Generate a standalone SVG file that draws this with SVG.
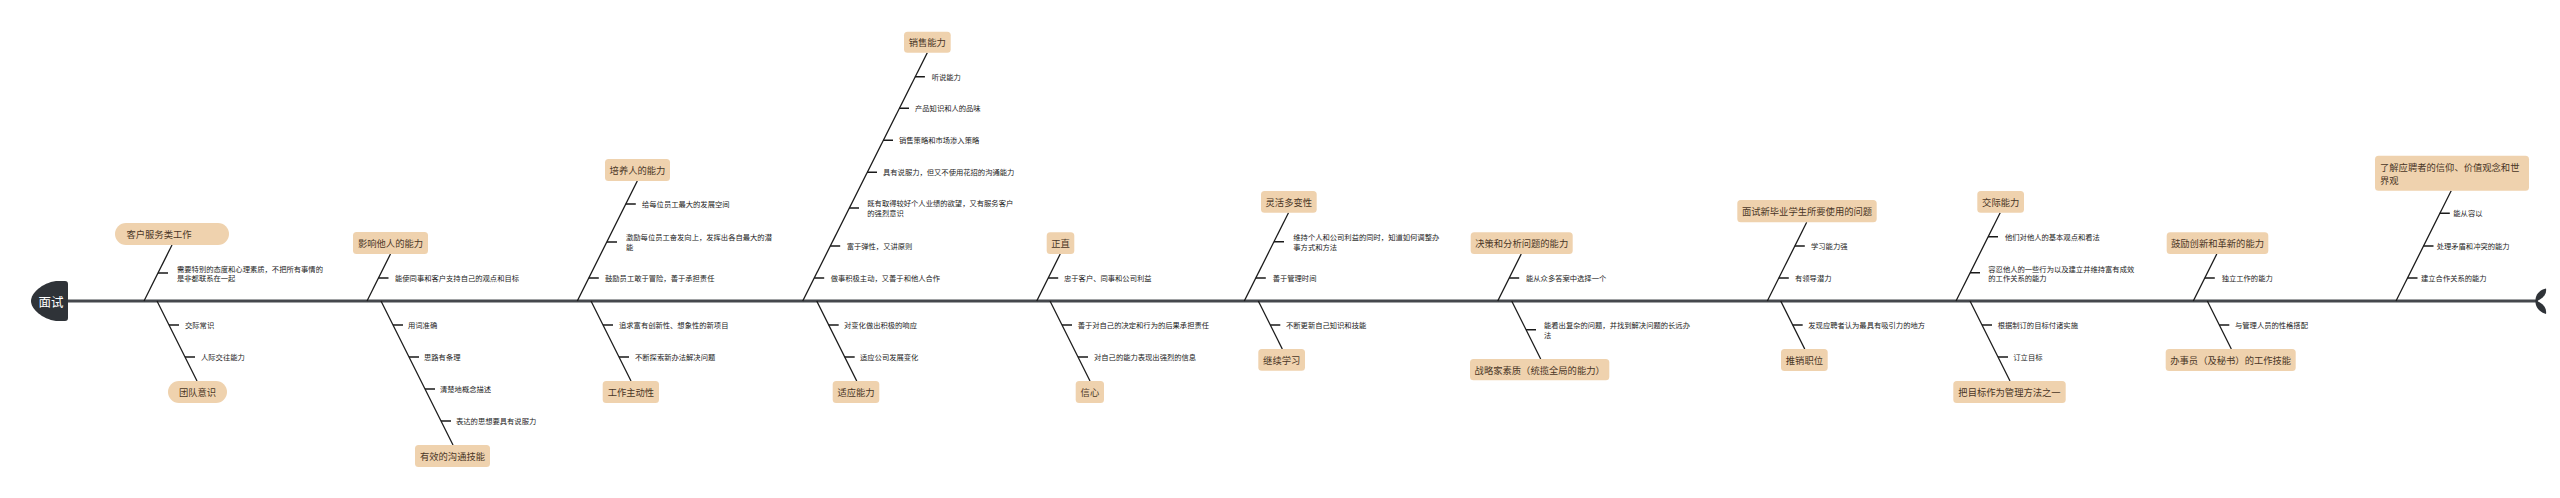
<svg xmlns="http://www.w3.org/2000/svg" width="2560" height="498" viewBox="0 0 2560 498">
<style>
.bg{fill:#ffffff}
.spine{stroke:#45484d;stroke-width:3;fill:none}
.br{stroke:#1a1a1a;stroke-width:1.3;fill:none}
.tk{stroke:#1a1a1a;stroke-width:1.5;fill:none}
.box{fill:#efd2ae}
.lbl{font-family:"Noto Sans CJK SC","Noto Sans",sans-serif;font-size:9.3px;fill:#4a3626;text-anchor:middle;dominant-baseline:central}
.lbl2{font-family:"Noto Sans CJK SC","Noto Sans",sans-serif;font-size:9.3px;fill:#4a3626;dominant-baseline:central}
.sub{font-family:"Noto Sans CJK SC","Noto Sans",sans-serif;font-size:7.3px;fill:#222;dominant-baseline:central}
.head{fill:#2f3338}
.htxt{font-family:"Noto Sans CJK SC","Noto Sans",sans-serif;font-size:12.5px;fill:#ffffff;text-anchor:middle;dominant-baseline:central}
</style>
<rect class="bg" x="0" y="0" width="2560" height="498"/>
<g id="connectors">
<line class="spine" x1="66" y1="301" x2="2538" y2="301"/>
<line class="br" x1="144" y1="301" x2="172" y2="245"/>
<line class="br" x1="157" y1="301" x2="197" y2="381"/>
<line class="br" x1="367" y1="301" x2="390.5" y2="254"/>
<line class="br" x1="381" y1="301" x2="453" y2="445"/>
<line class="br" x1="577.3" y1="301" x2="637.3" y2="181"/>
<line class="br" x1="591" y1="301" x2="631" y2="381"/>
<line class="br" x1="802.7" y1="301" x2="927.3" y2="52.7"/>
<line class="br" x1="816.7" y1="301" x2="856.7" y2="381"/>
<line class="br" x1="1036.7" y1="301" x2="1060.2" y2="254"/>
<line class="br" x1="1050" y1="301" x2="1090" y2="381"/>
<line class="br" x1="1244.3" y1="301" x2="1288.5" y2="212.7"/>
<line class="br" x1="1258.3" y1="301" x2="1282.3" y2="349"/>
<line class="br" x1="1497.7" y1="301" x2="1521.2" y2="254"/>
<line class="br" x1="1511.7" y1="301" x2="1540.7" y2="359"/>
<line class="br" x1="1767.3" y1="301" x2="1806.7" y2="222.3"/>
<line class="br" x1="1780.7" y1="301" x2="1804.7" y2="349"/>
<line class="br" x1="1956" y1="301" x2="2000.2" y2="212.7"/>
<line class="br" x1="1970" y1="301" x2="2010" y2="381"/>
<line class="br" x1="2193.3" y1="301" x2="2216.8" y2="254"/>
<line class="br" x1="2207.3" y1="301" x2="2231.3" y2="349"/>
<line class="br" x1="2396" y1="301" x2="2451.2" y2="190.7"/>
<path class="tk" d="M158 273h10 M169 325h10 M185 357h10
M378.5 278h10 M393 325h10 M409 357h10 M425 389h10 M441 421h10
M625.8 204h10 M607 242h10 M588.8 278h10 M603 325h10 M619 357h10
M914.9 76.7h10 M899 108.3h10 M883 140.3h10 M867 172.3h10 M849 208h10 M830.2 246h10 M814.2 278h10 M828.7 325h10 M844.7 357h10
M1048.2 278h10 M1062 325h10 M1078 357h10
M1274 241.7h10 M1255.8 278h10 M1270.3 325h10
M1509.2 278h10 M1526 329.7h10
M1794.8 246h10 M1778.8 278h10 M1792.7 325h10
M1988 236.7h10 M1970 272.7h10 M1982 325h10 M1998 357h10
M2204.8 278h10 M2219.3 325h10
M2439.8 213.3h10 M2423.5 246h10 M2407.5 278h10"/>
</g>
<g id="head">
<path class="head" d="M68 284 Q68 281 65 281 L56 281 C42 283 31 293 31 301 C31 309 42 319 56 321 L65 321 Q68 321 68 318 Z"/>
<text class="htxt" x="51" y="301">面试</text>
</g>
<g id="tail">
<path class="head" d="M2535.5 301.5 C2535 295 2539 290 2546 288.5 C2547 294 2543 299 2535.5 301.5 Z"/>
<path class="head" d="M2535.5 300.5 C2535 307 2539 312 2546 314 C2547 308 2543 303 2535.5 300.5 Z"/>
</g>
<g id="n-kehu">
<rect class="box" x="115" y="223" width="114" height="22" rx="11"/>
<text class="lbl" x="159" y="234">客户服务类工作</text>
<text class="sub" x="177" y="268.7">需要特别的态度和心理素质，不把所有事情的</text>
<text class="sub" x="177" y="278">是非都联系在一起</text>
</g>
<g id="n-tuandui">
<rect class="box" x="168" y="381" width="59" height="22" rx="11"/>
<text class="lbl" x="197.5" y="392">团队意识</text>
<text class="sub" x="185" y="325">交际常识</text>
<text class="sub" x="201" y="357">人际交往能力</text>
</g>
<g id="n-yingxiang">
<rect class="box" x="353" y="232" width="75" height="22" rx="3.5"/>
<text class="lbl" x="390.5" y="243">影响他人的能力</text>
<text class="sub" x="395" y="278">能使同事和客户支持自己的观点和目标</text>
</g>
<g id="n-goutong">
<rect class="box" x="415" y="445" width="75" height="22" rx="3.5"/>
<text class="lbl" x="452.5" y="456">有效的沟通技能</text>
<text class="sub" x="408" y="325">用词准确</text>
<text class="sub" x="424" y="357">思路有条理</text>
<text class="sub" x="440" y="389">清楚地概念描述</text>
<text class="sub" x="456" y="421">表达的思想要具有说服力</text>
</g>
<g id="n-peiyang">
<rect class="box" x="605" y="159" width="65" height="22" rx="3.5"/>
<text class="lbl" x="637.5" y="170">培养人的能力</text>
<text class="sub" x="642" y="204">给每位员工最大的发展空间</text>
<text class="sub" x="626" y="237.3">激励每位员工奋发向上，发挥出各自最大的潜</text>
<text class="sub" x="626" y="246.7">能</text>
<text class="sub" x="605" y="278">鼓励员工敢于冒险，善于承担责任</text>
</g>
<g id="n-zhudong">
<rect class="box" x="602.7" y="381" width="56.3" height="22" rx="3.5"/>
<text class="lbl" x="630.9" y="392">工作主动性</text>
<text class="sub" x="619" y="325">追求富有创新性、想象性的新项目</text>
<text class="sub" x="635" y="357">不断探索新办法解决问题</text>
</g>
<g id="n-xiaoshou">
<rect class="box" x="904" y="31.7" width="46.7" height="21" rx="3.5"/>
<text class="lbl" x="927.3" y="42.2">销售能力</text>
<text class="sub" x="931.7" y="76.7">听说能力</text>
<text class="sub" x="915" y="108.3">产品知识和人的品味</text>
<text class="sub" x="899" y="140.3">销售策略和市场渗入策略</text>
<text class="sub" x="883" y="172.3">具有说服力，但又不使用花招的沟通能力</text>
<text class="sub" x="867.3" y="203.3">既有取得较好个人业绩的欲望，又有服务客户</text>
<text class="sub" x="867.3" y="213.3">的强烈意识</text>
<text class="sub" x="846.7" y="246">富于弹性，又讲原则</text>
<text class="sub" x="830.7" y="278">做事积极主动，又善于和他人合作</text>
</g>
<g id="n-shiying">
<rect class="box" x="832.7" y="381" width="46.6" height="22" rx="3.5"/>
<text class="lbl" x="856" y="392">适应能力</text>
<text class="sub" x="844" y="325">对变化做出积极的响应</text>
<text class="sub" x="860" y="357">适应公司发展变化</text>
</g>
<g id="n-zhengzhi">
<rect class="box" x="1046.7" y="232.3" width="27.6" height="21.7" rx="3.5"/>
<text class="lbl" x="1060.5" y="243.2">正直</text>
<text class="sub" x="1064" y="278">忠于客户、同事和公司利益</text>
</g>
<g id="n-xinxin">
<rect class="box" x="1075.7" y="381" width="28.3" height="22" rx="3.5"/>
<text class="lbl" x="1089.9" y="392">信心</text>
<text class="sub" x="1077.7" y="325">善于对自己的决定和行为的后果承担责任</text>
<text class="sub" x="1094" y="357">对自己的能力表现出强烈的信息</text>
</g>
<g id="n-linghuo">
<rect class="box" x="1261" y="191" width="55.7" height="21.7" rx="3.5"/>
<text class="lbl" x="1288.8" y="201.9">灵活多变性</text>
<text class="sub" x="1293.3" y="237.3">维持个人和公司利益的同时，知道如何调整办</text>
<text class="sub" x="1293.3" y="246.7">事方式和方法</text>
<text class="sub" x="1272.7" y="278">善于管理时间</text>
</g>
<g id="n-xuexi">
<rect class="box" x="1258.3" y="349" width="46.7" height="21.7" rx="3.5"/>
<text class="lbl" x="1281.7" y="359.9">继续学习</text>
<text class="sub" x="1286" y="325">不断更新自己知识和技能</text>
</g>
<g id="n-juece">
<rect class="box" x="1470.7" y="232.3" width="102" height="21.7" rx="3.5"/>
<text class="lbl" x="1521.7" y="243.2">决策和分析问题的能力</text>
<text class="sub" x="1526" y="278">能从众多答案中选择一个</text>
</g>
<g id="n-zhanlue">
<rect class="box" x="1470" y="359" width="139.3" height="21.3" rx="3.5"/>
<text class="lbl" x="1539.7" y="369.7">战略家素质（统揽全局的能力）</text>
<text class="sub" x="1544" y="325.3">能看出复杂的问题，并找到解决问题的长远办</text>
<text class="sub" x="1544" y="334.7">法</text>
</g>
<g id="n-biye">
<rect class="box" x="1737.3" y="200" width="139.4" height="22.3" rx="3.5"/>
<text class="lbl" x="1807" y="211.2">面试新毕业学生所要使用的问题</text>
<text class="sub" x="1811" y="246">学习能力强</text>
<text class="sub" x="1795" y="278">有领导潜力</text>
</g>
<g id="n-tuixiao">
<rect class="box" x="1781" y="349" width="46.7" height="22" rx="3.5"/>
<text class="lbl" x="1804.4" y="360">推销职位</text>
<text class="sub" x="1808.3" y="325">发现应聘者认为最具有吸引力的地方</text>
</g>
<g id="n-jiaoji">
<rect class="box" x="1977.3" y="191" width="46.7" height="21.7" rx="3.5"/>
<text class="lbl" x="2000.7" y="201.9">交际能力</text>
<text class="sub" x="2005" y="236.7">他们对他人的基本观点和看法</text>
<text class="sub" x="1988.3" y="268.7">容忍他人的一些行为以及建立并维持富有成效</text>
<text class="sub" x="1988.3" y="278">的工作关系的能力</text>
</g>
<g id="n-mubiao">
<rect class="box" x="1953.3" y="381" width="112.4" height="22" rx="3.5"/>
<text class="lbl" x="2009.5" y="392">把目标作为管理方法之一</text>
<text class="sub" x="1997.7" y="325">根据制订的目标付诸实施</text>
<text class="sub" x="2013.3" y="357">订立目标</text>
</g>
<g id="n-chuangxin">
<rect class="box" x="2166.7" y="232.3" width="101.6" height="21.7" rx="3.5"/>
<text class="lbl" x="2217.5" y="243.2">鼓励创新和革新的能力</text>
<text class="sub" x="2221.7" y="278">独立工作的能力</text>
</g>
<g id="n-banshi">
<rect class="box" x="2165.7" y="349" width="130" height="22" rx="3.5"/>
<text class="lbl" x="2230.7" y="360">办事员（及秘书）的工作技能</text>
<text class="sub" x="2235" y="325">与管理人员的性格搭配</text>
</g>
<g id="n-xinyang">
<rect class="box" x="2375" y="155.7" width="154" height="35" rx="3.5"/>
<text class="lbl2" x="2380" y="166.7">了解应聘者的信仰、价值观念和世</text>
<text class="lbl2" x="2380" y="180">界观</text>
<text class="sub" x="2453.3" y="213.3">能从容以</text>
<text class="sub" x="2436.7" y="246">处理矛盾和冲突的能力</text>
<text class="sub" x="2421" y="278">建立合作关系的能力</text>
</g>
</svg>
